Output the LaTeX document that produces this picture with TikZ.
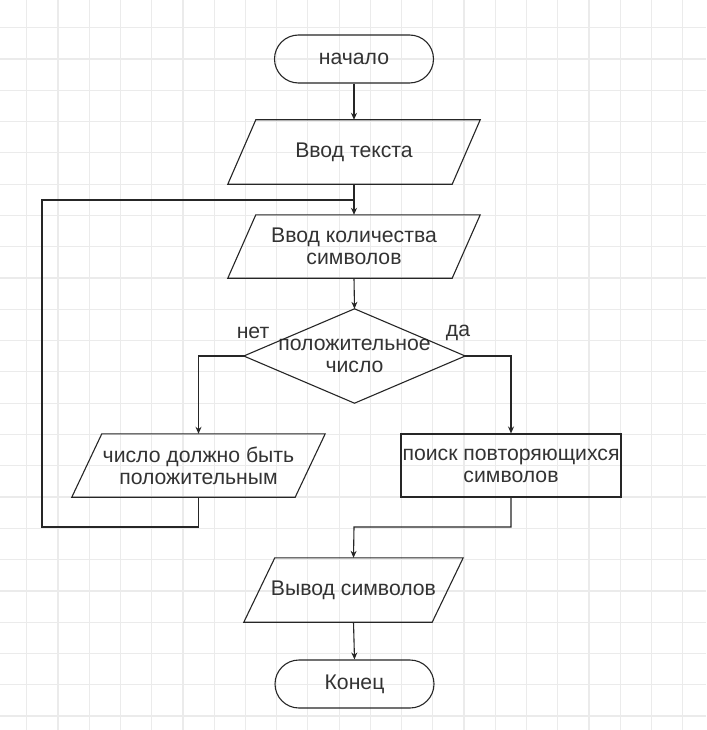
\documentclass[tikz,border=0pt]{standalone}
\usepackage{fontspec}
\setmainfont{Liberation Sans}
\usetikzlibrary{arrows.meta}
\begin{document}
\begin{tikzpicture}[x=1pt,y=-1pt,
  txt/.style={font=\fontsize{21.2}{22}\selectfont, text=black!80, align=center, inner sep=0pt},
  shp/.style={draw=black!85, line width=1.1pt},
  term/.style={txt, shp, rounded corners=24pt, minimum width=159pt, minimum height=48pt},
  flow/.style={draw=black!85, line width=1.1pt},
  flowarr/.style={flow, -{Stealth[length=7pt,width=6pt]}},
  minorgrid/.style={draw=black!8, line width=1.2pt}
]
\useasboundingbox (0,0) rectangle (706,730);
\fill[white] (0,0) rectangle (706,730);
% grid
\foreach \k in {0,...,21}{
  \pgfmathsetmacro{\gx}{26.7+31.24*\k}
  \draw[minorgrid] (\gx,0) -- (\gx,730);
}
\foreach \k in {0,...,22}{
  \pgfmathsetmacro{\gy}{27.7+31.29*\k}
  \draw[minorgrid] (0,\gy) -- (706,\gy);
}

% nodes
\node[term] (start) at (354,59) {начало};
\node[txt, minimum width=252pt, minimum height=64pt] (t1) at (354,152) {Ввод текста};
\draw[shp] ([xshift=28pt]t1.north west) -- (t1.north east) -- ([xshift=-28pt]t1.south east) -- (t1.south west) -- cycle;
\node[txt, minimum width=252pt, minimum height=63pt] (q) at (354,246.5) {Ввод количества\\символов};
\draw[shp] ([xshift=28pt]q.north west) -- (q.north east) -- ([xshift=-28pt]q.south east) -- (q.south west) -- cycle;
\node[txt, minimum width=221pt, minimum height=94pt] (dec) at (354.5,356) {положительное\\число};
\draw[shp] (dec.north) -- (dec.east) -- (dec.south) -- (dec.west) -- cycle;
\node[txt] (no) at (253,333) {нет};
\node[txt] (yes) at (458,333) {да};
\node[txt, minimum width=253pt, minimum height=63pt] (err) at (198.5,465.5) {число должно быть\\положительным};
\draw[shp] ([xshift=30pt]err.north west) -- (err.north east) -- ([xshift=-30pt]err.south east) -- (err.south west) -- cycle;
\node[txt, shp, minimum width=220pt, minimum height=63pt] (srch) at (511,465.5) {поиск повторяющихся\\символов};
\node[txt, minimum width=219pt, minimum height=64pt] (outp) at (353.5,590) {Вывод символов};
\draw[shp] ([xshift=31pt]outp.north west) -- (outp.north east) -- ([xshift=-31pt]outp.south east) -- (outp.south west) -- cycle;
\node[term] (fin) at (354.5,684) {Конец};

% connectors
\coordinate (j1) at (354,200);
\coordinate (loopL) at (42,527);
\coordinate (loopT) at (42,200);
\coordinate (j2) at (354,527);
\draw[flowarr] (start.south) -- (t1.north);
\draw[flowarr] (t1.south) -- (q.north);
\draw[flowarr] (q.south) -- (dec.north);
\draw[flowarr] (dec.west) -| (err.north);
\draw[flowarr] (dec.east) -| (srch.north);
\draw[flow] (err.south) |- (loopL) -- (loopT) -- (j1);
\draw[flowarr] (srch.south) |- (j2) -- (outp.north);
\draw[flowarr] (outp.south) -- (fin.north);
\end{tikzpicture}
\end{document}
